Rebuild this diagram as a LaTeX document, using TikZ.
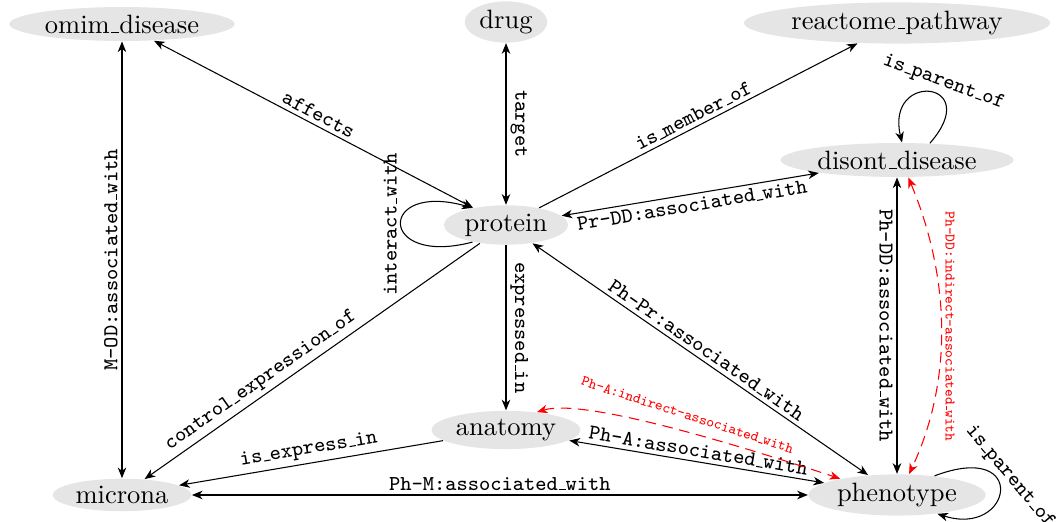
\documentclass[tikz,border=0pt]{standalone}
\usetikzlibrary{shapes.geometric,arrows.meta}
\renewcommand{\_}{\leavevmode\kern.06em\vbox{\hrule width.3em}}
\begin{document}
\begin{tikzpicture}[x=0.3774pt,y=0.3774pt,>={Stealth[length=4pt,width=3.2pt,inset=1.2pt]},line join=round,
	ent/.style={ellipse,fill=black!10,inner sep=1pt},
	lbl/.style={font=\footnotesize\ttfamily,inner sep=1.5pt},
	ilbl/.style={font=\fontsize{5.5}{6}\selectfont\ttfamily,text=red,inner sep=1.5pt},
	ind/.style={red,dash pattern=on 4pt off 2.5pt}]
		\useasboundingbox (0,0) rectangle (1059,-522);
		\node[ent] (omim) at (122,-24) {omim\_disease};
		\node[ent] (drug) at (506,-22) {drug};
		\node[ent] (reactome) at (897,-23) {reactome\_pathway};
		\node[ent] (disont) at (897,-160) {disont\_disease};
		\node[ent] (protein) at (506,-225) {protein};
		\node[ent] (anatomy) at (506,-430) {anatomy};
		\node[ent] (microna) at (122,-495) {microna};
		\node[ent] (phenotype) at (897,-495) {phenotype};
		\draw[<->] (microna) -- (omim) node[midway,rotate=90,anchor=south,lbl]{M-OD:associated\_with};
		\draw[<->] (omim) -- (protein) node[midway,sloped,above,lbl]{affects};
		\draw[<->] (drug) -- (protein) node[midway,rotate=-90,anchor=south,lbl]{target};
		\draw[->] (protein) -- (reactome) node[midway,sloped,above,lbl]{is\_member\_of};
		\draw[<->] (protein) -- (disont) node[midway,sloped,below,lbl]{Pr-DD:associated\_with};
		\draw[->] (protein.207) .. controls +(-95,-25) and +(-95,27) .. (protein.153) node[midway,rotate=90,anchor=south,lbl]{interact\_with};
		\draw[->] (disont.27) .. controls +(55,63) and +(-17,72) .. (disont.74) node[pos=0.4,rotate=-20,anchor=south,lbl]{is\_parent\_of};
		\draw[->] (protein) -- (microna) node[pos=0.63,sloped,above,lbl]{control\_expression\_of};
		\draw[->] (protein) -- (anatomy) node[midway,rotate=-90,anchor=south,lbl]{expressed\_in};
		\draw[<->] (protein) -- (phenotype) node[midway,sloped,above,lbl]{Ph-Pr:associated\_with};
		\draw[->] (anatomy) -- (microna) node[midway,sloped,above,lbl]{is\_express\_in};
		\draw[<->] (microna) -- (phenotype) node[midway,above,lbl]{Ph-M:associated\_with};
		\draw[<->] (anatomy) -- (phenotype) node[midway,sloped,above,lbl]{Ph-A:associated\_with};
		\draw[<->] (disont) -- (phenotype) node[midway,rotate=-90,anchor=north,lbl]{Ph-DD:associated\_with};
		\draw[->] (phenotype.27) .. controls +(95,36) and +(75,-24) .. (phenotype.-25) node[pos=0.45,rotate=-50,anchor=south,lbl]{is\_parent\_of};
		\draw[ind,<->] (anatomy.30) .. controls +(49,15) and +(-85,28) .. (phenotype.164) node[pos=0.52,rotate=-18,anchor=south,yshift=3pt,ilbl]{Ph-A:indirect-associated\_with};
		\draw[ind,<->] (disont.303) .. controls +(41,-98) and +(45,96) .. (phenotype.60) node[midway,rotate=-90,anchor=south,ilbl]{Ph-DD:indirect-associated\_with};
\end{tikzpicture}
\end{document}
